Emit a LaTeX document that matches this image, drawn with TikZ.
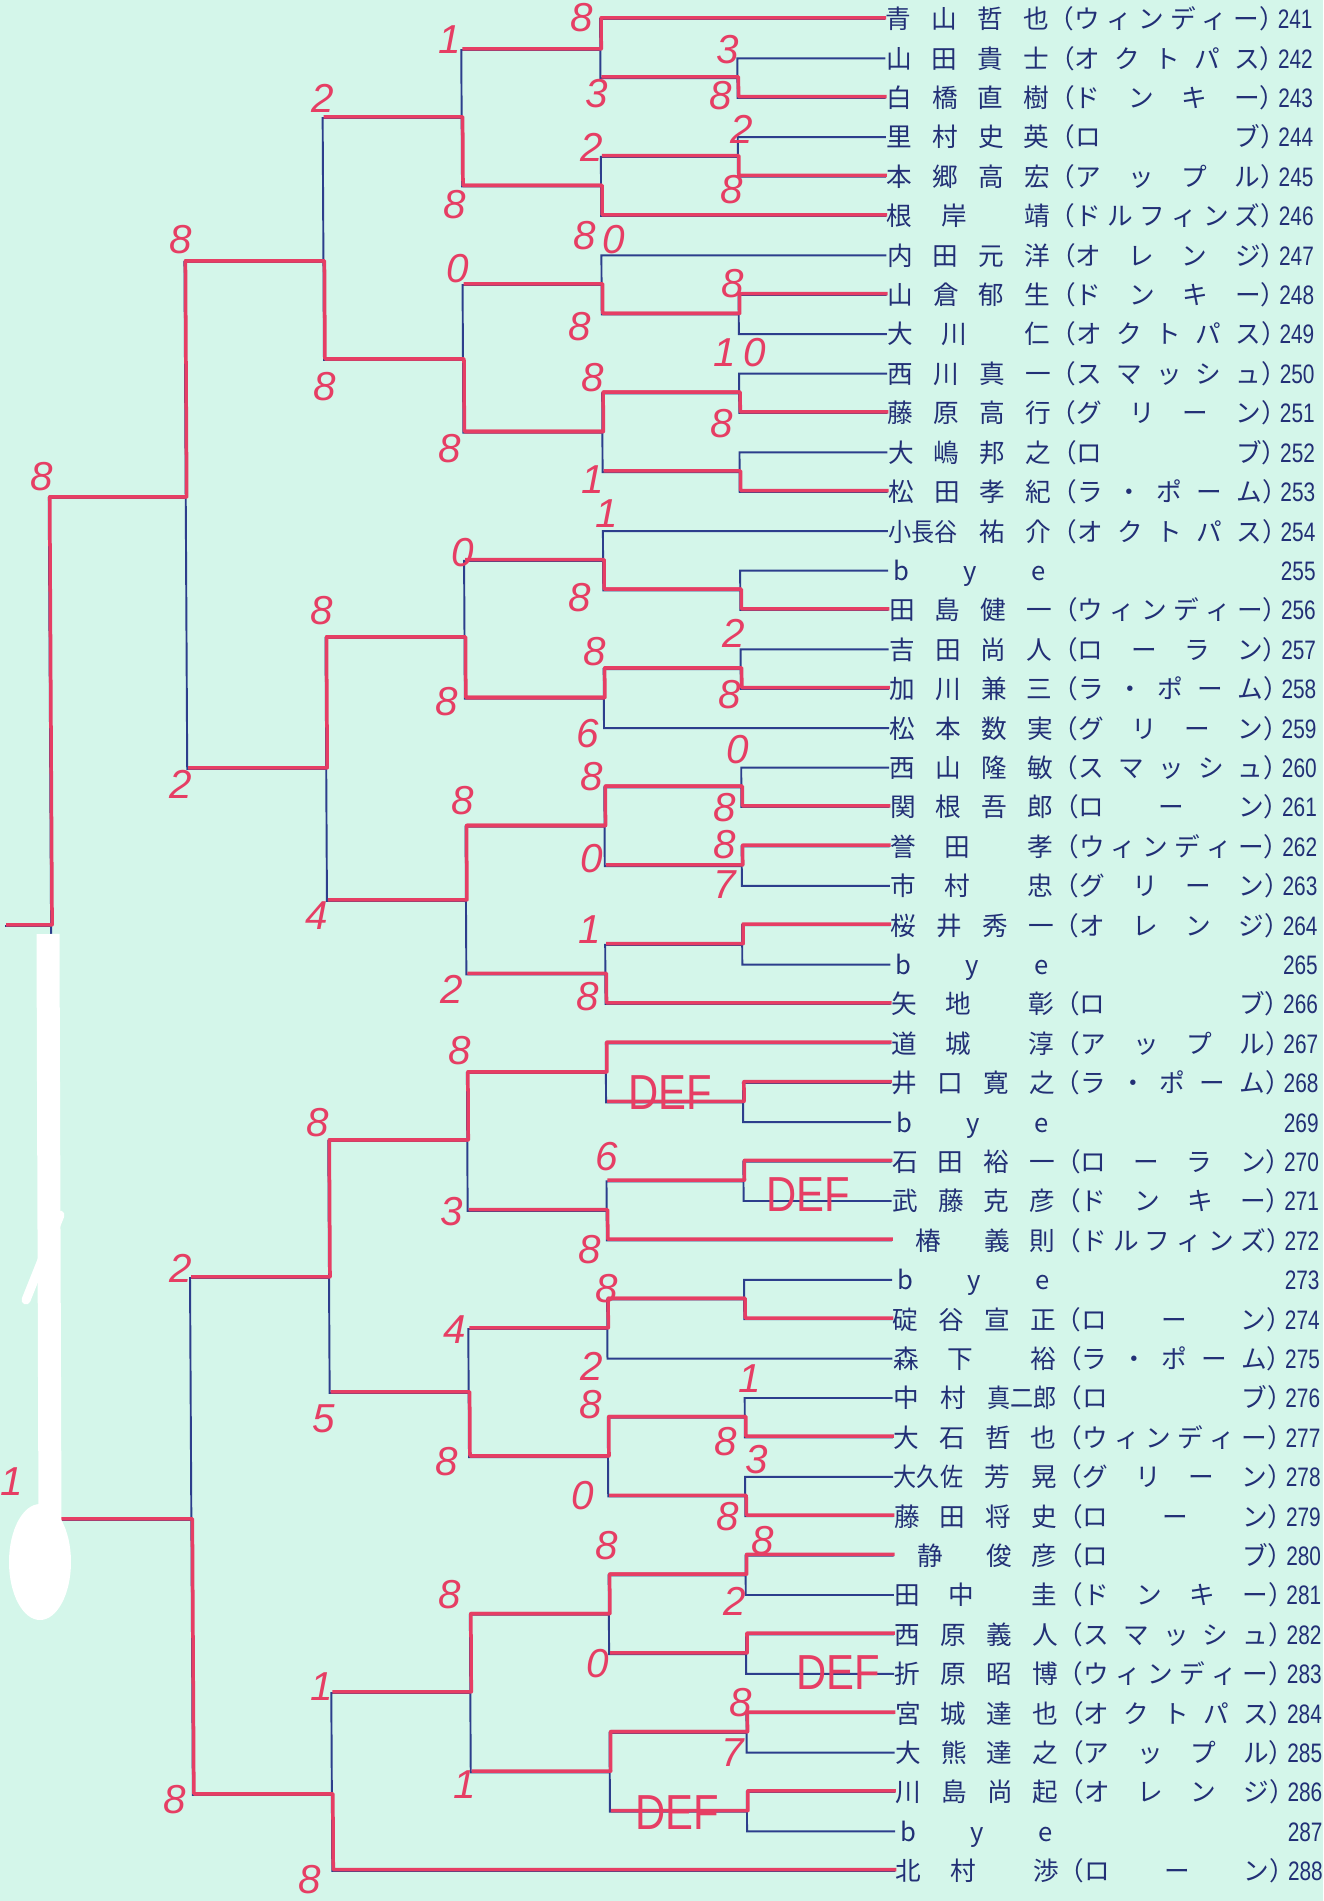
\documentclass[tikz,border=0pt]{standalone}
\usepackage{fontspec}
\usepackage{graphicx}
\newfontfamily\jpfont{Noto Sans CJK JP}
\newfontfamily\numfont{Liberation Sans}[FakeStretch=0.78]
\newfontfamily\handfont{Liberation Sans}
\newfontfamily\deffont{Liberation Sans}[FakeStretch=0.85]
\usepackage{tikz}
\definecolor{paper}{RGB}{212,246,234}
\definecolor{printblue}{RGB}{44,62,140}
\definecolor{pen}{RGB}{230,62,100}
\definecolor{typeink}{RGB}{34,48,118}

\newcommand{\nbox}[1]{\makebox[16.3mm][s]{#1}}
\newcommand{\teambox}[1]{（\makebox[18.5mm][s]{#1}）}
\newcommand{\cell}[1]{\makebox[1em]{#1}}
\newcommand{\squeeze}[1]{\scalebox{0.9}[1]{#1}}
\newcommand{\wind}{\teambox{ウ\hfill ィ\hfill ン\hfill デ\hfill ィ\hfill ー}}
\newcommand{\octo}{\teambox{オ\hfill ク\hfill ト\hfill パ\hfill ス}}
\newcommand{\donk}{\teambox{ド\hfill ン\hfill キ\hfill ー}}
\newcommand{\robu}{\teambox{ロ\hfill ブ}}
\newcommand{\appl}{\teambox{ア\hfill ッ\hfill プ\hfill ル}}
\newcommand{\dolp}{\teambox{ド\hfill ル\hfill フ\hfill ィ\hfill ン\hfill ズ}}
\newcommand{\oran}{\teambox{オ\hfill レ\hfill ン\hfill ジ}}
\newcommand{\smas}{\teambox{ス\hfill マ\hfill ッ\hfill シ\hfill ュ}}
\newcommand{\gree}{\teambox{グ\hfill リ\hfill ー\hfill ン}}
\newcommand{\lapo}{\teambox{ラ\hfill ・\hfill ポ\hfill ー\hfill ム}}
\newcommand{\rora}{\teambox{ロ\hfill ー\hfill ラ\hfill ン}}
\newcommand{\roon}{\teambox{ロ\hfill ー\hfill ン}}
\newcommand{\bye}{\nbox{\cell{b}\hfill\cell{y}\hfill\cell{e}}}

\begin{document}
\begin{tikzpicture}[
  x=0.1mm, y=-0.1mm,
  bline/.style={draw=printblue, line width=0.55pt},
  win/.style={draw=pen, line width=1pt, line join=round, transform canvas={shift={(0.1mm,0.12mm)}}},
  player/.style={anchor=west, inner sep=0pt, text height=2.3mm, text depth=0.34mm, text=typeink, font=\jpfont\fontsize{7.3}{8}\selectfont},
  numtag/.style={anchor=west, inner sep=0pt, text height=2.3mm, text depth=0.34mm, text=typeink, font=\numfont\fontsize{7.6}{8}\selectfont},
  score/.style={inner sep=0pt, text=pen, font=\handfont\itshape\fontsize{11.5}{13}\selectfont},
  defmark/.style={inner sep=0pt, text=pen, font=\deffont\fontsize{14}{16}\selectfont},
  whiteout/.style={draw=white}
]
  \fill[paper] (0,0) rectangle (1323,1901);
  \useasboundingbox (0,0) rectangle (1323,1901);

  \begin{scope}[xslant=-0.0055]
  % entries
  \node[player] (p241) at (885,19.0) {\nbox{青\hfill 山\hfill 哲\hfill 也}\wind};
  \node[numtag] (n241) at (1277,19.0) {241};
  \node[player] (p242) at (885,58.4) {\nbox{山\hfill 田\hfill 貴\hfill 士}\octo};
  \node[numtag] (n242) at (1277,58.4) {242};
  \node[player] (p243) at (885,97.8) {\nbox{白\hfill 橋\hfill 直\hfill 樹}\donk};
  \node[numtag] (n243) at (1277,97.8) {243};
  \node[player] (p244) at (885,137.2) {\nbox{里\hfill 村\hfill 史\hfill 英}\robu};
  \node[numtag] (n244) at (1277,137.2) {244};
  \node[player] (p245) at (885,176.6) {\nbox{本\hfill 郷\hfill 高\hfill 宏}\appl};
  \node[numtag] (n245) at (1277,176.6) {245};
  \node[player] (p246) at (885,216.0) {\nbox{根\hfill 岸\hfill\hfill 靖}\dolp};
  \node[numtag] (n246) at (1277,216.0) {246};
  \node[player] (p247) at (885,255.4) {\nbox{内\hfill 田\hfill 元\hfill 洋}\oran};
  \node[numtag] (n247) at (1277,255.4) {247};
  \node[player] (p248) at (885,294.8) {\nbox{山\hfill 倉\hfill 郁\hfill 生}\donk};
  \node[numtag] (n248) at (1277,294.8) {248};
  \node[player] (p249) at (885,334.2) {\nbox{大\hfill 川\hfill\hfill 仁}\octo};
  \node[numtag] (n249) at (1277,334.2) {249};
  \node[player] (p250) at (885,373.6) {\nbox{西\hfill 川\hfill 真\hfill 一}\smas};
  \node[numtag] (n250) at (1277,373.6) {250};
  \node[player] (p251) at (885,413.0) {\nbox{藤\hfill 原\hfill 高\hfill 行}\gree};
  \node[numtag] (n251) at (1277,413.0) {251};
  \node[player] (p252) at (885,452.4) {\nbox{大\hfill 嶋\hfill 邦\hfill 之}\robu};
  \node[numtag] (n252) at (1277,452.4) {252};
  \node[player] (p253) at (885,491.8) {\nbox{松\hfill 田\hfill 孝\hfill 紀}\lapo};
  \node[numtag] (n253) at (1277,491.8) {253};
  \node[player] (p254) at (885,531.2) {\nbox{\squeeze{小長谷}\hfill 祐\hfill 介}\octo};
  \node[numtag] (n254) at (1277,531.2) {254};
  \node[player] (p255) at (885,570.6) {\bye};
  \node[numtag] (n255) at (1277,570.6) {255};
  \node[player] (p256) at (885,610.0) {\nbox{田\hfill 島\hfill 健\hfill 一}\wind};
  \node[numtag] (n256) at (1277,610.0) {256};
  \node[player] (p257) at (885,649.4) {\nbox{吉\hfill 田\hfill 尚\hfill 人}\rora};
  \node[numtag] (n257) at (1277,649.4) {257};
  \node[player] (p258) at (885,688.8) {\nbox{加\hfill 川\hfill 兼\hfill 三}\lapo};
  \node[numtag] (n258) at (1277,688.8) {258};
  \node[player] (p259) at (885,728.2) {\nbox{松\hfill 本\hfill 数\hfill 実}\gree};
  \node[numtag] (n259) at (1277,728.2) {259};
  \node[player] (p260) at (885,767.6) {\nbox{西\hfill 山\hfill 隆\hfill 敏}\smas};
  \node[numtag] (n260) at (1277,767.6) {260};
  \node[player] (p261) at (885,807.0) {\nbox{関\hfill 根\hfill 吾\hfill 郎}\roon};
  \node[numtag] (n261) at (1277,807.0) {261};
  \node[player] (p262) at (885,846.4) {\nbox{誉\hfill 田\hfill\hfill 孝}\wind};
  \node[numtag] (n262) at (1277,846.4) {262};
  \node[player] (p263) at (885,885.8) {\nbox{市\hfill 村\hfill\hfill 忠}\gree};
  \node[numtag] (n263) at (1277,885.8) {263};
  \node[player] (p264) at (885,925.2) {\nbox{桜\hfill 井\hfill 秀\hfill 一}\oran};
  \node[numtag] (n264) at (1277,925.2) {264};
  \node[player] (p265) at (885,964.6) {\bye};
  \node[numtag] (n265) at (1277,964.6) {265};
  \node[player] (p266) at (885,1004.0) {\nbox{矢\hfill 地\hfill\hfill 彰}\robu};
  \node[numtag] (n266) at (1277,1004.0) {266};
  \node[player] (p267) at (885,1043.4) {\nbox{道\hfill 城\hfill\hfill 淳}\appl};
  \node[numtag] (n267) at (1277,1043.4) {267};
  \node[player] (p268) at (885,1082.8) {\nbox{井\hfill 口\hfill 寛\hfill 之}\lapo};
  \node[numtag] (n268) at (1277,1082.8) {268};
  \node[player] (p269) at (885,1122.2) {\bye};
  \node[numtag] (n269) at (1277,1122.2) {269};
  \node[player] (p270) at (885,1161.6) {\nbox{石\hfill 田\hfill 裕\hfill 一}\rora};
  \node[numtag] (n270) at (1277,1161.6) {270};
  \node[player] (p271) at (885,1201.0) {\nbox{武\hfill 藤\hfill 克\hfill 彦}\donk};
  \node[numtag] (n271) at (1277,1201.0) {271};
  \node[player] (p272) at (885,1240.4) {\nbox{\hspace{\stretch{1.2}}椿\hspace{\stretch{2.2}}義\hfill 則}\dolp};
  \node[numtag] (n272) at (1277,1240.4) {272};
  \node[player] (p273) at (885,1279.8) {\bye};
  \node[numtag] (n273) at (1277,1279.8) {273};
  \node[player] (p274) at (885,1319.2) {\nbox{碇\hfill 谷\hfill 宣\hfill 正}\roon};
  \node[numtag] (n274) at (1277,1319.2) {274};
  \node[player] (p275) at (885,1358.6) {\nbox{森\hfill 下\hfill\hfill 裕}\lapo};
  \node[numtag] (n275) at (1277,1358.6) {275};
  \node[player] (p276) at (885,1398.0) {\nbox{中\hfill 村\hfill\squeeze{真二郎}}\robu};
  \node[numtag] (n276) at (1277,1398.0) {276};
  \node[player] (p277) at (885,1437.4) {\nbox{大\hfill 石\hfill 哲\hfill 也}\wind};
  \node[numtag] (n277) at (1277,1437.4) {277};
  \node[player] (p278) at (885,1476.8) {\nbox{\squeeze{大久佐}\hfill 芳\hfill 晃}\gree};
  \node[numtag] (n278) at (1277,1476.8) {278};
  \node[player] (p279) at (885,1516.2) {\nbox{藤\hfill 田\hfill 将\hfill 史}\roon};
  \node[numtag] (n279) at (1277,1516.2) {279};
  \node[player] (p280) at (885,1555.6) {\nbox{\hspace{\stretch{1.2}}静\hspace{\stretch{2.2}}俊\hfill 彦}\robu};
  \node[numtag] (n280) at (1277,1555.6) {280};
  \node[player] (p281) at (885,1595.0) {\nbox{田\hfill 中\hfill\hfill 圭}\donk};
  \node[numtag] (n281) at (1277,1595.0) {281};
  \node[player] (p282) at (885,1634.4) {\nbox{西\hfill 原\hfill 義\hfill 人}\smas};
  \node[numtag] (n282) at (1277,1634.4) {282};
  \node[player] (p283) at (885,1673.8) {\nbox{折\hfill 原\hfill 昭\hfill 博}\wind};
  \node[numtag] (n283) at (1277,1673.8) {283};
  \node[player] (p284) at (885,1713.2) {\nbox{宮\hfill 城\hfill 達\hfill 也}\octo};
  \node[numtag] (n284) at (1277,1713.2) {284};
  \node[player] (p285) at (885,1752.6) {\nbox{大\hfill 熊\hfill 達\hfill 之}\appl};
  \node[numtag] (n285) at (1277,1752.6) {285};
  \node[player] (p286) at (885,1792.0) {\nbox{川\hfill 島\hfill 尚\hfill 起}\oran};
  \node[numtag] (n286) at (1277,1792.0) {286};
  \node[player] (p287) at (885,1831.4) {\bye};
  \node[numtag] (n287) at (1277,1831.4) {287};
  \node[player] (p288) at (885,1870.8) {\nbox{北\hfill 村\hfill\hfill 渉}\roon};
  \node[numtag] (n288) at (1277,1870.8) {288};

  % match points, one column per round
  \coordinate (a1) at (737,78.1);
  \coordinate (a2) at (737,156.9);
  \coordinate (a3) at (737,314.5);
  \coordinate (a4) at (737,393.3);
  \coordinate (a5) at (737,472.1);
  \coordinate (a6) at (737,590.3);
  \coordinate (a7) at (737,669.1);
  \coordinate (a8) at (737,787.3);
  \coordinate (a9) at (737,866.1);
  \coordinate (a10) at (737,944.9);
  \coordinate (a11) at (737,1102.5);
  \coordinate (a12) at (737,1181.3);
  \coordinate (a13) at (737,1299.5);
  \coordinate (a14) at (737,1417.7);
  \coordinate (a15) at (737,1496.5);
  \coordinate (a16) at (737,1575.3);
  \coordinate (a17) at (737,1654.1);
  \coordinate (a18) at (737,1732.9);
  \coordinate (a19) at (737,1811.7);
  \coordinate (b1) at (600,50);
  \coordinate (b2) at (600,186.5);
  \coordinate (b3) at (600,285);
  \coordinate (b4) at (600,432.7);
  \coordinate (b5) at (600,560.8);
  \coordinate (b6) at (600,698.7);
  \coordinate (b7) at (600,826.7);
  \coordinate (b8) at (600,974.5);
  \coordinate (b9) at (600,1073);
  \coordinate (b10) at (600,1210.9);
  \coordinate (b11) at (600,1329);
  \coordinate (b12) at (600,1457.1);
  \coordinate (b13) at (600,1614.7);
  \coordinate (b14) at (600,1772.3);
  \coordinate (c1) at (461,118);
  \coordinate (c2) at (461,360);
  \coordinate (c3) at (461,638);
  \coordinate (c4) at (461,901);
  \coordinate (c5) at (461,1141);
  \coordinate (c6) at (461,1393);
  \coordinate (c7) at (461,1693);
  \coordinate (d1) at (322,262);
  \coordinate (d2) at (322,769);
  \coordinate (d3) at (322,1278);
  \coordinate (d4) at (322,1795);
  \coordinate (e1) at (183,498);
  \coordinate (e2) at (183,1520);
  \coordinate (f) at (46,926);
  \coordinate (out) at (0,926);

  % printed bracket
  \draw[bline] (p242.west) -| (a1) |- (p243.west);
  \draw[bline] (p244.west) -| (a2) |- (p245.west);
  \draw[bline] (p248.west) -| (a3) |- (p249.west);
  \draw[bline] (p250.west) -| (a4) |- (p251.west);
  \draw[bline] (p252.west) -| (a5) |- (p253.west);
  \draw[bline] (p255.west) -| (a6) |- (p256.west);
  \draw[bline] (p257.west) -| (a7) |- (p258.west);
  \draw[bline] (p260.west) -| (a8) |- (p261.west);
  \draw[bline] (p262.west) -| (a9) |- (p263.west);
  \draw[bline] (p264.west) -| (a10) |- (p265.west);
  \draw[bline] (p268.west) -| (a11) |- (p269.west);
  \draw[bline] (p270.west) -| (a12) |- (p271.west);
  \draw[bline] (p273.west) -| (a13) |- (p274.west);
  \draw[bline] (p276.west) -| (a14) |- (p277.west);
  \draw[bline] (p278.west) -| (a15) |- (p279.west);
  \draw[bline] (p280.west) -| (a16) |- (p281.west);
  \draw[bline] (p282.west) -| (a17) |- (p283.west);
  \draw[bline] (p284.west) -| (a18) |- (p285.west);
  \draw[bline] (p286.west) -| (a19) |- (p287.west);
  \draw[bline] (p241.west) -| (b1) |- (a1);
  \draw[bline] (a2) -| (b2) |- (p246.west);
  \draw[bline] (p247.west) -| (b3) |- (a3);
  \draw[bline] (a4) -| (b4) |- (a5);
  \draw[bline] (p254.west) -| (b5) |- (a6);
  \draw[bline] (a7) -| (b6) |- (p259.west);
  \draw[bline] (a8) -| (b7) |- (a9);
  \draw[bline] (a10) -| (b8) |- (p266.west);
  \draw[bline] (p267.west) -| (b9) |- (a11);
  \draw[bline] (a12) -| (b10) |- (p272.west);
  \draw[bline] (a13) -| (b11) |- (p275.west);
  \draw[bline] (a14) -| (b12) |- (a15);
  \draw[bline] (a16) -| (b13) |- (a17);
  \draw[bline] (a18) -| (b14) |- (a19);
  \draw[bline] (b1) -| (c1) |- (b2);
  \draw[bline] (b3) -| (c2) |- (b4);
  \draw[bline] (b5) -| (c3) |- (b6);
  \draw[bline] (b7) -| (c4) |- (b8);
  \draw[bline] (b9) -| (c5) |- (b10);
  \draw[bline] (b11) -| (c6) |- (b12);
  \draw[bline] (b13) -| (c7) |- (b14);
  \draw[bline] (c1) -| (d1) |- (c2);
  \draw[bline] (c3) -| (d2) |- (c4);
  \draw[bline] (c5) -| (d3) |- (c6);
  \draw[bline] (c7) -| (d4) |- (p288.west);
  \draw[bline] (d1) -| (e1) |- (d2);
  \draw[bline] (d3) -| (e2) |- (d4);
  \draw[bline] (e1) -| (f) |- (e2);
  \draw[bline] (f) -- (out);

  % winners traced in red pen
  \draw[win] (p243.west) -| (a1) -- (b1 |- a1);
  \draw[win] (p245.west) -| (a2) -- (b2 |- a2);
  \draw[win] (p248.west) -| (a3) -- (b3 |- a3);
  \draw[win] (p251.west) -| (a4) -- (b4 |- a4);
  \draw[win] (p253.west) -| (a5) -- (b4 |- a5);
  \draw[win] (p256.west) -| (a6) -- (b5 |- a6);
  \draw[win] (p258.west) -| (a7) -- (b6 |- a7);
  \draw[win] (p261.west) -| (a8) -- (b7 |- a8);
  \draw[win] (p262.west) -| (a9) -- (b7 |- a9);
  \draw[win] (p264.west) -| (a10) -- (b8 |- a10);
  \draw[win] (p268.west) -| (a11) -- (b9 |- a11);
  \draw[win] (p270.west) -| (a12) -- (b10 |- a12);
  \draw[win] (p274.west) -| (a13) -- (b11 |- a13);
  \draw[win] (p277.west) -| (a14) -- (b12 |- a14);
  \draw[win] (p279.west) -| (a15) -- (b12 |- a15);
  \draw[win] (p280.west) -| (a16) -- (b13 |- a16);
  \draw[win] (p282.west) -| (a17) -- (b13 |- a17);
  \draw[win] (p284.west) -| (a18) -- (b14 |- a18);
  \draw[win] (p286.west) -| (a19) -- (b14 |- a19);
  \draw[win] (p241.west) -| (b1) -- (c1 |- b1);
  \draw[win] (p246.west) -| (b2) -- (c1 |- b2);
  \draw[win] (a3) -| (b3) -- (c2 |- b3);
  \draw[win] (a4) -| (b4) -- (c2 |- b4);
  \draw[win] (a6) -| (b5) -- (c3 |- b5);
  \draw[win] (a7) -| (b6) -- (c3 |- b6);
  \draw[win] (a8) -| (b7) -- (c4 |- b7);
  \draw[win] (p266.west) -| (b8) -- (c4 |- b8);
  \draw[win] (p267.west) -| (b9) -- (c5 |- b9);
  \draw[win] (p272.west) -| (b10) -- (c5 |- b10);
  \draw[win] (a13) -| (b11) -- (c6 |- b11);
  \draw[win] (a14) -| (b12) -- (c6 |- b12);
  \draw[win] (a16) -| (b13) -- (c7 |- b13);
  \draw[win] (a18) -| (b14) -- (c7 |- b14);
  \draw[win] (b2) -| (c1) -- (d1 |- c1);
  \draw[win] (b4) -| (c2) -- (d1 |- c2);
  \draw[win] (b6) -| (c3) -- (d2 |- c3);
  \draw[win] (b7) -| (c4) -- (d2 |- c4);
  \draw[win] (b9) -| (c5) -- (d3 |- c5);
  \draw[win] (b12) -| (c6) -- (d3 |- c6);
  \draw[win] (b13) -| (c7) -- (d4 |- c7);
  \draw[win] (c2) -| (d1) -- (e1 |- d1);
  \draw[win] (c3) -| (d2) -- (e1 |- d2);
  \draw[win] (c5) -| (d3) -- (e2 |- d3);
  \draw[win] (p288.west) -| (d4) -- (e2 |- d4);
  \draw[win] (d1) -| (e1) -- (f |- e1);
  \draw[win] (d4) -| (e2) -- (f |- e2);
  \draw[win] (e1) -| (f) -- (out);
  \end{scope}

  % correction fluid over the lower final line
  \draw[whiteout, line width=2.3mm] (48,934) -- (50,1525);
  \fill[white] (40,1562) ellipse [x radius=3.1mm, y radius=5.8mm];
  \draw[whiteout, line width=0.9mm, line cap=round] (26,1300) -- (60,1215);

  % handwritten scores
  \node[score] (s1) at (582,18) {8};
  \node[score] (s2) at (450,40) {1};
  \node[score] (s3) at (728,50) {3};
  \node[score] (s4) at (597,94) {3};
  \node[score] (s5) at (721,96) {8};
  \node[score] (s6) at (323,98) {2};
  \node[score] (s7) at (742,129) {2};
  \node[score] (s8) at (592,147) {2};
  \node[score] (s9) at (732,190) {8};
  \node[score] (s10) at (455,205) {8};
  \node[score] (s11) at (181,240) {8};
  \node[score] (s12) at (585,236) {8};
  \node[score] (s13) at (614,240) {0};
  \node[score] (s14) at (458,269) {0};
  \node[score] (s15) at (733,284) {8};
  \node[score] (s16) at (580,327) {8};
  \node[score] (s17) at (740,353) {1\hspace{0.8mm}0};
  \node[score] (s18) at (325,387) {8};
  \node[score] (s19) at (593,378) {8};
  \node[score] (s20) at (722,424) {8};
  \node[score] (s21) at (450,449) {8};
  \node[score] (s22) at (42,477) {8};
  \node[score] (s23) at (593,480) {1};
  \node[score] (s24) at (607,514) {1};
  \node[score] (s25) at (463,553) {0};
  \node[score] (s26) at (580,598) {8};
  \node[score] (s27) at (322,611) {8};
  \node[score] (s28) at (734,633) {2};
  \node[score] (s29) at (595,652) {8};
  \node[score] (s30) at (730,695) {8};
  \node[score] (s31) at (447,702) {8};
  \node[score] (s32) at (588,734) {6};
  \node[score] (s33) at (738,750) {0};
  \node[score] (s34) at (592,777) {8};
  \node[score] (s35) at (181,784) {2};
  \node[score] (s36) at (463,801) {8};
  \node[score] (s37) at (725,808) {8};
  \node[score] (s38) at (725,845) {8};
  \node[score] (s39) at (592,859) {0};
  \node[score] (s40) at (725,885) {7};
  \node[score] (s41) at (317,916) {4};
  \node[score] (s42) at (590,930) {1};
  \node[score] (s43) at (452,989) {2};
  \node[score] (s44) at (588,997) {8};
  \node[score] (s45) at (460,1051) {8};
  \node[score] (s46) at (318,1123) {8};
  \node[score] (s47) at (607,1157) {6};
  \node[score] (s48) at (452,1212) {3};
  \node[score] (s49) at (590,1250) {8};
  \node[score] (s50) at (181,1268) {2};
  \node[score] (s51) at (607,1289) {8};
  \node[score] (s52) at (455,1330) {4};
  \node[score] (s53) at (592,1366) {2};
  \node[score] (s54) at (750,1379) {1};
  \node[score] (s55) at (591,1405) {8};
  \node[score] (s56) at (324,1419) {5};
  \node[score] (s57) at (726,1442) {8};
  \node[score] (s58) at (757,1460) {3};
  \node[score] (s59) at (447,1462) {8};
  \node[score] (s60) at (12,1482) {1};
  \node[score] (s61) at (583,1496) {0};
  \node[score] (s62) at (728,1517) {8};
  \node[score] (s63) at (763,1541) {8};
  \node[score] (s64) at (607,1546) {8};
  \node[score] (s65) at (450,1595) {8};
  \node[score] (s66) at (735,1601) {2};
  \node[score] (s67) at (598,1664) {0};
  \node[score] (s68) at (322,1687) {1};
  \node[score] (s69) at (741,1703) {8};
  \node[score] (s70) at (733,1753) {7};
  \node[score] (s71) at (465,1785) {1};
  \node[score] (s72) at (175,1800) {8};
  \node[score] (s73) at (310,1880) {8};

  \node[defmark] (def1) at (670,1093) {DEF};
  \node[defmark] (def2) at (808,1195) {DEF};
  \node[defmark] (def3) at (838,1673) {DEF};
  \node[defmark] (def4) at (677,1813) {DEF};
\end{tikzpicture}
\end{document}
